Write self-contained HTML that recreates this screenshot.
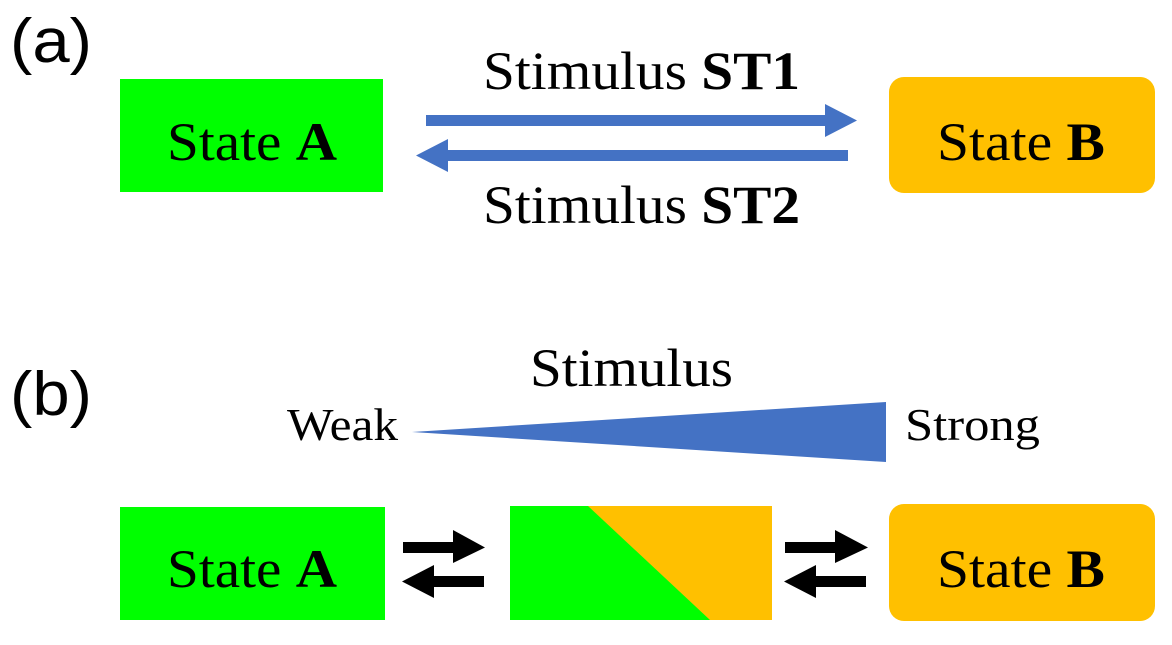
<!DOCTYPE html>
<html><head><style>
body{margin:0;width:1172px;height:640px;background:#fff;overflow:hidden}
</style></head><body>
<svg width="1172" height="640" xmlns="http://www.w3.org/2000/svg">
<rect x="120" y="79" width="263" height="113" fill="#00ff00"/>
<rect x="889" y="77" width="266" height="116" rx="15" fill="#ffc000"/>
<g fill="#4472c4">
<rect x="426" y="115" width="400" height="11"/>
<polygon points="825,104 857,120.5 825,137"/>
<rect x="446" y="150" width="402" height="11"/>
<polygon points="448,139 416,155.5 448,172"/>
<polygon points="412,432 886,402 886,462"/>
</g>
<rect x="120" y="507" width="265" height="113" fill="#00ff00"/>
<rect x="889" y="504" width="266" height="117" rx="15" fill="#ffc000"/>
<rect x="510" y="506" width="262" height="114" fill="#ffc000"/>
<polygon points="510,506 588,506 710,620 510,620" fill="#00ff00"/>
<g fill="#000">
<rect x="403" y="542" width="52" height="11"/>
<polygon points="453,530 485,547.5 453,563"/>
<rect x="432" y="576" width="52" height="11"/>
<polygon points="434,565 402,581.5 434,598"/>
<rect x="785" y="542" width="52" height="11"/>
<polygon points="835,530 868,547.5 835,563"/>
<rect x="814" y="576" width="52" height="11"/>
<polygon points="816,565 784,581.5 816,598"/>
</g>
<g font-family="Liberation Sans, sans-serif" font-size="62" fill="#000">
<text x="10" y="62" textLength="82" lengthAdjust="spacingAndGlyphs">(a)</text>
<text x="10" y="415" textLength="82" lengthAdjust="spacingAndGlyphs">(b)</text>
</g>
<g font-family="Liberation Serif, serif" font-size="54" fill="#000">
<text x="167" y="160" textLength="170" lengthAdjust="spacingAndGlyphs">State <tspan font-weight="bold">A</tspan></text>
<text x="937" y="160" textLength="168" lengthAdjust="spacingAndGlyphs">State <tspan font-weight="bold">B</tspan></text>
<text x="483" y="89" textLength="317" lengthAdjust="spacingAndGlyphs">Stimulus <tspan font-weight="bold">ST1</tspan></text>
<text x="483" y="223" textLength="317" lengthAdjust="spacingAndGlyphs">Stimulus <tspan font-weight="bold">ST2</tspan></text>
<text x="530" y="386" textLength="203" lengthAdjust="spacingAndGlyphs">Stimulus</text>
<text x="287" y="440" font-size="46" textLength="111" lengthAdjust="spacingAndGlyphs">Weak</text>
<text x="905" y="440" font-size="46" textLength="135" lengthAdjust="spacingAndGlyphs">Strong</text>
<text x="167" y="587" textLength="170" lengthAdjust="spacingAndGlyphs">State <tspan font-weight="bold">A</tspan></text>
<text x="937" y="587" textLength="168" lengthAdjust="spacingAndGlyphs">State <tspan font-weight="bold">B</tspan></text>
</g>
</svg>
</body></html>
